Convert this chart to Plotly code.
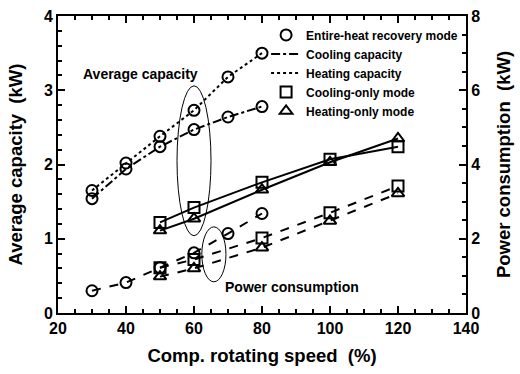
import plotly.graph_objects as go

# ---- data ----
speed_ehr = [30, 40, 50, 60, 70, 80]
ehr_heating_cap = [1.65, 2.02, 2.38, 2.73, 3.18, 3.50]
ehr_cooling_cap = [1.54, 1.94, 2.24, 2.47, 2.64, 2.78]
ehr_power = [0.60, 0.82, 1.22, 1.62, 2.14, 2.68]

speed_single = [50, 60, 80, 100, 120]
cool_only_cap = [1.22, 1.42, 1.76, 2.07, 2.24]
heat_only_cap = [1.11, 1.27, 1.66, 2.03, 2.35]
cool_only_power = [1.22, 1.44, 2.02, 2.70, 3.42]
heat_only_power = [0.98, 1.20, 1.76, 2.48, 3.22]

x_ticks = [20, 40, 60, 80, 100, 120, 140]
y_ticks = [0, 1, 2, 3, 4]
y2_ticks = [0, 2, 4, 6, 8]

BLACK = "black"
FONT = "Liberation Sans"

fig = go.Figure()

def add(x, y, dash, symbol, axis="y"):
    fig.add_trace(go.Scatter(
        x=x, y=y, yaxis=axis, mode="lines+markers",
        line=dict(color=BLACK, width=2, dash=dash),
        marker=dict(symbol=symbol, size=11, color=BLACK,
                    line=dict(color=BLACK, width=2)),
        showlegend=False))

add(speed_ehr, ehr_heating_cap, "dot", "circle-open")
add(speed_ehr, ehr_cooling_cap, "dashdot", "circle-open")
add(speed_single, cool_only_cap, "solid", "square-open")
add(speed_single, heat_only_cap, "solid", "triangle-up-open")
add(speed_ehr, ehr_power, "dash", "circle-open", "y2")
add(speed_single, cool_only_power, "dash", "square-open", "y2")
add(speed_single, heat_only_power, "dash", "triangle-up-open", "y2")

# legend entries
legend_items = [
    ("Entire-heat recovery mode", "markers", "solid", "circle-open"),
    ("Cooling capacity", "lines", "dashdot", "circle-open"),
    ("Heating capacity", "lines", "dot", "circle-open"),
    ("Cooling-only mode", "markers", "solid", "square-open"),
    ("Heating-only mode", "markers", "solid", "triangle-up-open"),
]
for name, mode, dash, sym in legend_items:
    fig.add_trace(go.Scatter(
        x=[None], y=[None], mode=mode, name=name,
        line=dict(color=BLACK, width=2, dash=dash),
        marker=dict(symbol=sym, size=11, color=BLACK,
                    line=dict(color=BLACK, width=2)),
        showlegend=True))

tickfont = dict(family=FONT, size=16, color=BLACK, weight="bold")
titlefont = dict(family=FONT, size=18.5, color=BLACK, weight="bold")

common = dict(ticks="inside", ticklen=7, tickwidth=2, tickcolor=BLACK,
              linecolor=BLACK, linewidth=2, showline=True, showgrid=False,
              zeroline=False, automargin=False, tickfont=tickfont)

fig.update_layout(
    width=520, height=374,
    margin=dict(l=58, r=54, t=16, b=61),
    plot_bgcolor="white", paper_bgcolor="white",
    font=dict(family=FONT, color=BLACK),
    legend=dict(x=0.51, y=0.985, xanchor="left", yanchor="top",
                bgcolor="rgba(0,0,0,0)", tracegroupgap=0,
                font=dict(family=FONT, size=12, color=BLACK, weight="bold"),
                itemwidth=30),
    xaxis=dict(range=[20, 140], tickvals=x_ticks, mirror="ticks",
               minor=dict(dtick=5, ticks="inside", ticklen=4, tickwidth=1.5, tickcolor=BLACK),
               title=dict(text="Comp. rotating speed  (%)", font=titlefont, standoff=13),
               **common),
    yaxis=dict(range=[0, 4], tickvals=y_ticks,
               minor=dict(dtick=0.2, ticks="inside", ticklen=4, tickwidth=1.5, tickcolor=BLACK),
               title=dict(text="Average capacity  (kW)", font=titlefont, standoff=16),
               **common),
    yaxis2=dict(range=[0, 8], tickvals=y2_ticks, overlaying="y", side="right",
                minor=dict(dtick=0.5, ticks="inside", ticklen=4, tickwidth=1.5, tickcolor=BLACK),
                title=dict(text="Power consumption  (kW)", font=titlefont, standoff=18),
                **common),
)

# ellipses grouping series
ellipse_capacity = dict(x0=55, x1=65, y0=1.04, y1=3.06)
ellipse_power = dict(x0=62.3, x1=69.4, y0=0.42, y1=1.16)
for e in (ellipse_capacity, ellipse_power):
    fig.add_shape(type="circle", xref="x", yref="y", **e,
                  line=dict(color=BLACK, width=1))

fig.add_annotation(x=44.3, y=3.22, xref="x", yref="y", text="Average capacity",
                   showarrow=False, font=dict(family=FONT, size=14, color=BLACK, weight="bold"))
fig.add_annotation(x=88.8, y=0.35, xref="x", yref="y", text="Power consumption",
                   showarrow=False, font=dict(family=FONT, size=14, color=BLACK, weight="bold"))

fig.write_html("out.html", config={"displayModeBar": False},
               post_script="document.body.style.margin='0px';")
